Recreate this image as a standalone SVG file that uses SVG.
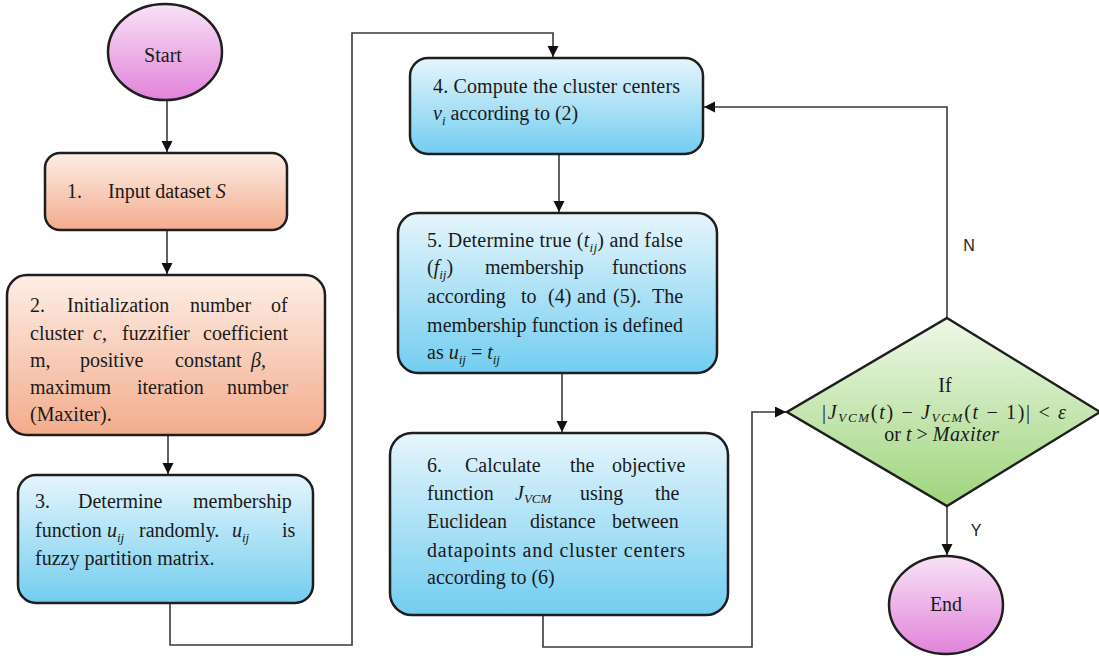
<svg xmlns="http://www.w3.org/2000/svg" width="1099" height="660" viewBox="0 0 1099 660">
<defs>
<linearGradient id="gPink" x1="0" y1="0" x2="0" y2="1"><stop offset="0" stop-color="#f8e2f6"/><stop offset="1" stop-color="#e183da"/></linearGradient>
<linearGradient id="gPeach" x1="0" y1="0" x2="0" y2="1"><stop offset="0" stop-color="#fdeee6"/><stop offset="1" stop-color="#f3ac8d"/></linearGradient>
<linearGradient id="gBlue" x1="0" y1="0" x2="0" y2="1"><stop offset="0" stop-color="#e6f5fc"/><stop offset="1" stop-color="#72cdf0"/></linearGradient>
<linearGradient id="gGreen" x1="0" y1="0" x2="0" y2="1"><stop offset="0" stop-color="#eef8e8"/><stop offset="1" stop-color="#9fd47c"/></linearGradient>
<marker id="arr" markerUnits="userSpaceOnUse" markerWidth="12" markerHeight="12" refX="11" refY="5.5" orient="auto"><path d="M0,0 L11,5.5 L0,11 z" fill="#111"/></marker>
<style>
.shape{stroke:#1e1e1e;stroke-width:2.5}
.t{font-family:"Liberation Serif","Times New Roman",serif;font-size:20px;fill:#1a1a1a}
.i{font-style:italic}
.s{font-style:italic;font-size:13px}
.lab{font-family:"Liberation Sans",Arial,sans-serif;font-size:16px;fill:#222}
.c{fill:none;stroke:#3a3a3a;stroke-width:1.6}
</style>
</defs>
<rect width="1099" height="660" fill="#ffffff"/>

<g id="connectors">
<path class="c" d="M167,100 V152" marker-end="url(#arr)"/>
<path class="c" d="M167,230 V274" marker-end="url(#arr)"/>
<path class="c" d="M168,435 V474" marker-end="url(#arr)"/>
<path class="c" d="M170,603 V645 H352 V33 H553 V57" marker-end="url(#arr)"/>
<path class="c" d="M559,154 V212" marker-end="url(#arr)"/>
<path class="c" d="M562,373 V432" marker-end="url(#arr)"/>
<path class="c" d="M543,615 V647 H752 V412 H786" marker-end="url(#arr)"/>
<path class="c" d="M947,318 V107 H704" marker-end="url(#arr)"/>
<path class="c" d="M947,505 V555" marker-end="url(#arr)"/>
<text class="lab" x="969" y="251" text-anchor="middle">N</text>
<text class="lab" x="976" y="536" text-anchor="middle">Y</text>
</g>

<g id="start">
<ellipse class="shape" cx="165" cy="52" rx="57" ry="48" fill="url(#gPink)"/>
<text class="t" x="163" y="62" text-anchor="middle" font-size="19">Start</text>
</g>

<g id="step1">
<rect class="shape" x="45" y="153" width="242" height="77" rx="15" fill="url(#gPeach)"/>
<text class="t" y="198"><tspan x="67">1.</tspan><tspan x="108">Input dataset </tspan><tspan class="i">S</tspan></text>
</g>

<g id="step2">
<rect class="shape" x="7" y="275" width="318" height="160" rx="20" fill="url(#gPeach)"/>
<text class="t" y="312"><tspan x="30">2.</tspan><tspan x="67">Initialization</tspan><tspan x="190">number</tspan><tspan x="271">of</tspan></text>
<text class="t" y="340"><tspan x="30">cluster</tspan><tspan x="93" class="i">c</tspan><tspan>,</tspan><tspan x="122">fuzzifier</tspan><tspan x="203">coefficient</tspan></text>
<text class="t" y="367"><tspan x="30">m,</tspan><tspan x="80">positive</tspan><tspan x="175">constant</tspan><tspan x="251" class="i">β</tspan><tspan>,</tspan></text>
<text class="t" y="394"><tspan x="30">maximum</tspan><tspan x="137">iteration</tspan><tspan x="227">number</tspan></text>
<text class="t" y="421" x="30">(Maxiter).</text>
</g>

<g id="step3">
<rect class="shape" x="18" y="475" width="295" height="128" rx="18" fill="url(#gBlue)"/>
<text class="t" y="508"><tspan x="35">3.</tspan><tspan x="78">Determine</tspan><tspan x="193">membership</tspan></text>
<text class="t" y="537"><tspan x="35">function</tspan><tspan x="107" class="i">u</tspan><tspan class="s" dy="5">ij</tspan><tspan x="139" dy="-5">randomly.</tspan><tspan x="232" class="i">u</tspan><tspan class="s" dy="5">ij</tspan><tspan x="282" dy="-5">is</tspan></text>
<text class="t" y="565" x="35">fuzzy partition matrix.</text>
</g>

<g id="step4">
<rect class="shape" x="410" y="58" width="293" height="96" rx="18" fill="url(#gBlue)"/>
<text class="t" x="433" y="93" textLength="247" lengthAdjust="spacing">4. Compute the cluster centers</text>
<text class="t" y="120"><tspan x="433" class="i">v</tspan><tspan class="s" dy="5">i</tspan><tspan dy="-5"> according to (2)</tspan></text>
</g>

<g id="step5">
<rect class="shape" x="398" y="213" width="319" height="160" rx="20" fill="url(#gBlue)"/>
<text class="t" x="427" y="247" textLength="256" lengthAdjust="spacing">5. Determine true (<tspan class="i">t</tspan><tspan class="s" dy="5">ij</tspan><tspan dy="-5">) and false</tspan></text>
<text class="t" y="274"><tspan x="427">(</tspan><tspan class="i">f</tspan><tspan class="s" dy="5">ij</tspan><tspan dy="-5">)</tspan><tspan x="485">membership</tspan><tspan x="612">functions</tspan></text>
<text class="t" y="303"><tspan x="427">according</tspan><tspan x="521">to</tspan><tspan x="548">(4)</tspan><tspan x="577">and</tspan><tspan x="613">(5).</tspan><tspan x="652">The</tspan></text>
<text class="t" x="427" y="332" textLength="256" lengthAdjust="spacing">membership function is defined</text>
<text class="t" y="359"><tspan x="427">as </tspan><tspan class="i">u</tspan><tspan class="s" dy="5">ij</tspan><tspan dy="-5"> = </tspan><tspan class="i">t</tspan><tspan class="s" dy="5">ij</tspan></text>
</g>

<g id="step6">
<rect class="shape" x="390" y="433" width="338" height="182" rx="22" fill="url(#gBlue)"/>
<text class="t" y="472"><tspan x="427">6.</tspan><tspan x="465">Calculate</tspan><tspan x="570">the</tspan><tspan x="612">objective</tspan></text>
<text class="t" y="500"><tspan x="427">function</tspan><tspan x="515" class="i">J</tspan><tspan class="s" dy="3">VCM</tspan><tspan x="580" dy="-3">using</tspan><tspan x="655">the</tspan></text>
<text class="t" y="528"><tspan x="427">Euclidean</tspan><tspan x="530">distance</tspan><tspan x="612">between</tspan></text>
<text class="t" x="427" y="557" textLength="258" lengthAdjust="spacing">datapoints and cluster centers</text>
<text class="t" x="427" y="584">according to (6)</text>
</g>

<g id="decision">
<polygon class="shape" points="947,318 1100,412 947,506 787,412" fill="url(#gGreen)"/>
<text class="t" x="945" y="392" text-anchor="middle">If</text>
<text class="t" x="944" y="419" text-anchor="middle" textLength="244" lengthAdjust="spacing">|<tspan class="i">J</tspan><tspan class="s" dy="3">VCM</tspan><tspan dy="-3">(</tspan><tspan class="i">t</tspan>) − <tspan class="i">J</tspan><tspan class="s" dy="3">VCM</tspan><tspan dy="-3">(</tspan><tspan class="i">t</tspan> − 1)| &lt; <tspan class="i">ε</tspan></text>
<text class="t" x="942" y="441" text-anchor="middle">or <tspan class="i">t</tspan> &gt; <tspan class="i" letter-spacing="0.5">Maxiter</tspan></text>
</g>

<g id="end">
<ellipse class="shape" cx="946" cy="605" rx="57" ry="49" fill="url(#gPink)"/>
<text class="t" x="946" y="611" text-anchor="middle" font-size="19">End</text>
</g>
</svg>
